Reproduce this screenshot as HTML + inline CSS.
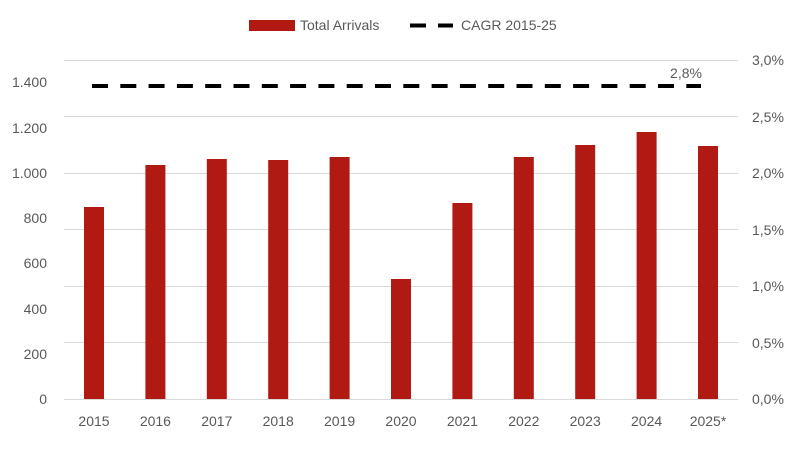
<!DOCTYPE html>
<html><head><meta charset="utf-8"><style>
body{margin:0;background:#fff}
svg text{font-family:"Liberation Sans",sans-serif;font-size:14px;fill:#595959}
</style></head><body>
<svg width="800" height="444" viewBox="0 0 800 444" xmlns="http://www.w3.org/2000/svg">
<g stroke="#d9d9d9" stroke-width="1">
<line x1="64" x2="738" y1="60.5" y2="60.5"/>
<line x1="64" x2="738" y1="116.5" y2="116.5"/>
<line x1="64" x2="738" y1="173.5" y2="173.5"/>
<line x1="64" x2="738" y1="229.5" y2="229.5"/>
<line x1="64" x2="738" y1="286.5" y2="286.5"/>
<line x1="64" x2="738" y1="342.5" y2="342.5"/>
<line x1="64" x2="738" y1="399.5" y2="399.5"/>
</g>
<g fill="#b01a12">
<rect x="84" y="207" width="20" height="192"/>
<rect x="145.4" y="165" width="20" height="234"/>
<rect x="206.8" y="159" width="20" height="240"/>
<rect x="268.2" y="160" width="20" height="239"/>
<rect x="329.6" y="157" width="20" height="242"/>
<rect x="391" y="279" width="20" height="120"/>
<rect x="452.4" y="203" width="20" height="196"/>
<rect x="513.8" y="157" width="20" height="242"/>
<rect x="575.2" y="145" width="20" height="254"/>
<rect x="636.6" y="132" width="20" height="267"/>
<rect x="698" y="146" width="20" height="253"/>
</g>
<line x1="92" x2="701" y1="86" y2="86" stroke="#000" stroke-width="4" stroke-dasharray="16,12.3"/>
<text x="686" y="78" text-anchor="middle">2,8%</text>
<g text-anchor="end">
<text x="47" y="87">1.400</text>
<text x="47" y="133">1.200</text>
<text x="47" y="178">1.000</text>
<text x="47" y="223">800</text>
<text x="47" y="268">600</text>
<text x="47" y="314">400</text>
<text x="47" y="359">200</text>
<text x="47" y="404">0</text>
</g>
<g text-anchor="start">
<text x="752" y="65">3,0%</text>
<text x="752" y="122">2,5%</text>
<text x="752" y="178">2,0%</text>
<text x="752" y="235">1,5%</text>
<text x="752" y="291">1,0%</text>
<text x="752" y="348">0,5%</text>
<text x="752" y="404">0,0%</text>
</g>
<g text-anchor="middle">
<text x="94" y="426">2015</text>
<text x="155.4" y="426">2016</text>
<text x="216.8" y="426">2017</text>
<text x="278.2" y="426">2018</text>
<text x="339.6" y="426">2019</text>
<text x="401" y="426">2020</text>
<text x="462.4" y="426">2021</text>
<text x="523.8" y="426">2022</text>
<text x="585.2" y="426">2023</text>
<text x="646.6" y="426">2024</text>
<text x="708" y="426">2025*</text>
</g>
<rect x="249" y="20" width="46" height="11" fill="#b01a12"/>
<text x="300" y="30">Total Arrivals</text>
<line x1="410" x2="453" y1="25.5" y2="25.5" stroke="#000" stroke-width="4" stroke-dasharray="16,12"/>
<text x="461" y="30">CAGR 2015-25</text>
</svg>
</body></html>
